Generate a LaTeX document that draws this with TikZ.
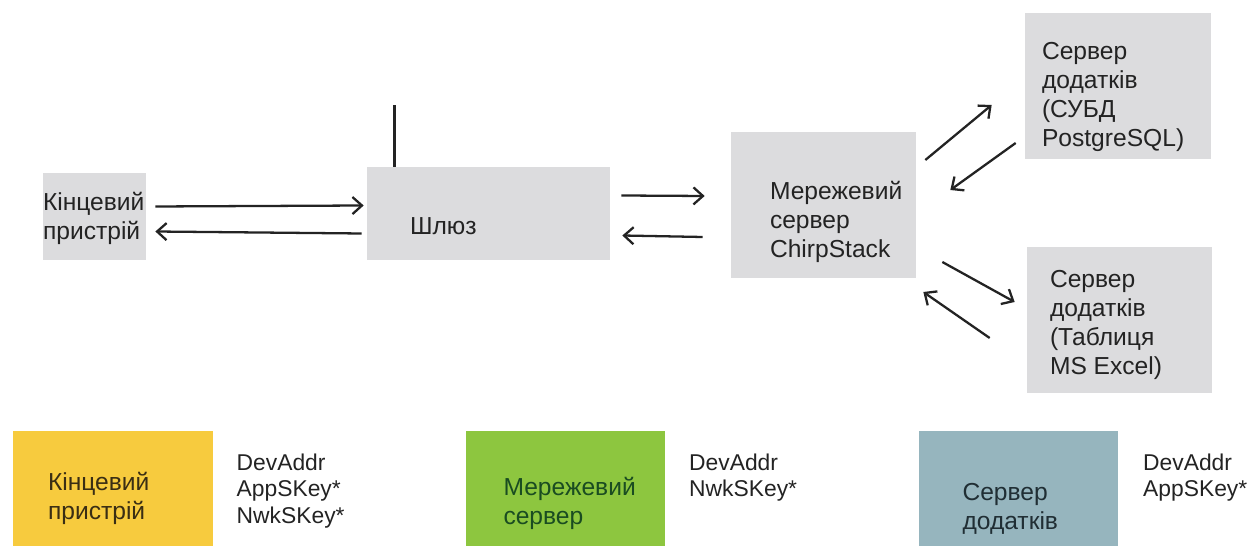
\documentclass[tikz,border=0pt]{standalone}
\usepackage{fontspec}
\setmainfont{Liberation Sans}
\usepackage{xcolor}
\usepackage{tikz}
\usetikzlibrary{arrows.meta,positioning,calc}
\definecolor{panelgrey}{RGB}{220,220,222}
\definecolor{devyellow}{RGB}{247,203,62}
\definecolor{netgreen}{RGB}{141,198,63}
\definecolor{appblue}{RGB}{150,181,190}
\definecolor{inkgrey}{RGB}{35,35,35}
\definecolor{devink}{RGB}{58,46,20}
\definecolor{netink}{RGB}{26,76,33}
\definecolor{appink}{RGB}{32,46,52}
\tikzset{
  panelbox/.style={fill=panelgrey,inner sep=0pt},
  rolebox/.style={inner sep=0pt,minimum width=4cm,minimum height=2.3cm},
  boxtext/.style={anchor=west,align=left,inner sep=0pt,text=inkgrey,
    font=\fontsize{14pt}{16.5pt}\selectfont},
  keytext/.style={align=left,inner sep=0pt,text=inkgrey,
    font=\fontsize{13pt}{15pt}\selectfont},
  flowarrow/.style={-{Straight Barb[length=1.9mm,width=3.4mm]},line width=1.3pt,draw=inkgrey},
  antennaline/.style={line width=1.8pt,draw=inkgrey}
}
\begin{document}
\begin{tikzpicture}[x=0.02cm,y=-0.02cm]
  \useasboundingbox (0,0) rectangle (1251,546);
  \node[panelbox,minimum width=2.06cm,minimum height=1.74cm,
    label={[boxtext,yshift=-0.03cm]west:Кінцевий\\пристрій}] (dev) at (94.5,216.5) {};
  \node[panelbox,minimum width=4.86cm,minimum height=1.86cm,
    label={[boxtext,xshift=0.86cm,yshift=-0.25cm]west:Шлюз}] (gw) at (488.5,213.5) {};
  \node[panelbox,minimum width=3.7cm,minimum height=2.92cm,
    label={[boxtext,xshift=0.78cm,yshift=-0.34cm]west:Мережевий\\сервер\\ChirpStack}] (ns) at (823.5,205) {};
  \node[panelbox,minimum width=3.72cm,minimum height=2.92cm,
    label={[boxtext,xshift=0.34cm,yshift=-0.21cm]west:Сервер\\додатків\\(СУБД\\PostgreSQL)}] (app1) at (1118,86) {};
  \node[panelbox,minimum width=3.7cm,minimum height=2.92cm,
    label={[boxtext,xshift=0.46cm,yshift=-0.1cm]west:Сервер\\додатків\\(Таблиця\\MS Excel)}] (app2) at (1119.5,320) {};
  \coordinate (aerialtip) at ($(gw.north west)+(28,-62)$);
  \draw[antennaline] ($(gw.north west)+(28,0)$) -- (aerialtip);
  \draw[flowarrow] ($(dev.east)+(9,-10)$) -- ($(gw.west)+(-3,-8)$);
  \draw[flowarrow] ($(gw.west)+(-5,20)$) -- ($(dev.east)+(9,15)$);
  \draw[flowarrow] ($(gw.east)+(11,-18)$) -- ($(ns.west)+(-26,-9)$);
  \draw[flowarrow] ($(ns.west)+(-28,32)$) -- ($(gw.east)+(12,22)$);
  \draw[flowarrow] ($(ns.east)+(9,-45)$) -- ($(app1.west)+(-33,19)$);
  \draw[flowarrow] ($(app1.west)+(-9,57)$) -- ($(ns.east)+(34,-15)$);
  \draw[flowarrow] ($(ns.east)+(26,57)$) -- ($(app2.west)+(-12,-18)$);
  \draw[flowarrow] ($(app2.west)+(-37,18)$) -- ($(ns.east)+(7,87)$);
  \node[rolebox,fill=devyellow,
    label={[boxtext,text=devink,xshift=0.7cm,yshift=-0.19cm]west:Кінцевий\\пристрій}] (devrole) at (113,488.5) {};
  \node[rolebox,fill=netgreen,
    label={[boxtext,text=netink,xshift=0.76cm,yshift=-0.29cm]west:Мережевий\\сервер}] (nsrole) at (565.5,488.5) {};
  \node[rolebox,fill=appblue,
    label={[boxtext,text=appink,xshift=0.88cm,yshift=-0.4cm]west:Сервер\\додатків}] (approle) at (1018.5,488.5) {};
  \node[keytext,below right=0.46cm and 0.46cm of devrole.north east] (devkeys) {DevAddr\\AppSKey*\\NwkSKey*};
  \node[keytext,below right=0.46cm and 0.46cm of nsrole.north east] (nskeys) {DevAddr\\NwkSKey*};
  \node[keytext,below right=0.46cm and 0.48cm of approle.north east] (appkeys) {DevAddr\\AppSKey*};
\end{tikzpicture}
\end{document}
